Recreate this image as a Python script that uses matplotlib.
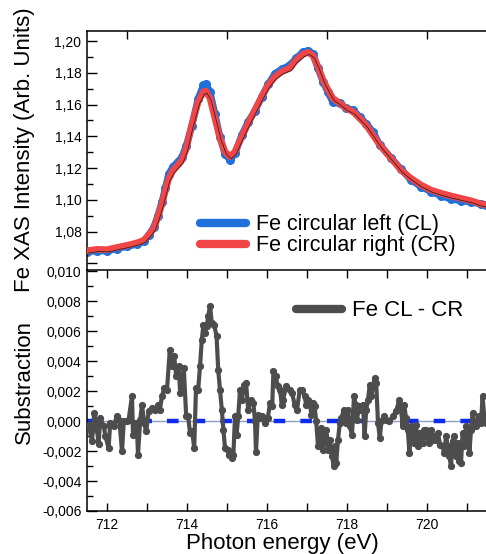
import matplotlib
matplotlib.use("Agg")
import matplotlib.pyplot as plt
from matplotlib.ticker import FixedLocator, MultipleLocator, FuncFormatter
from matplotlib.lines import Line2D
import matplotlib.transforms as mtransforms

plt.rcParams['font.family'] = ['Liberation Sans', 'DejaVu Sans']

# ---------------- data ----------------
top_e = [711.50, 711.75, 712.00, 712.25, 712.50, 712.75, 712.92, 713.04, 713.17, 713.27,
         713.375, 713.46, 713.54, 713.65, 713.77, 713.875, 713.98, 714.12, 714.28, 714.41,
         714.47, 714.575, 714.70, 714.825, 714.95, 715.075, 715.20, 715.37, 715.53, 715.70,
         715.87, 716.03, 716.20, 716.37, 716.57, 716.73, 716.90, 717.025, 717.15, 717.275,
         717.40, 717.525, 717.65, 717.82, 717.98, 718.15, 718.32, 718.48, 718.65, 718.82,
         719.10, 719.35, 719.60, 719.85, 720.10, 720.35, 720.60, 720.85, 721.10, 721.35, 721.475]
cr = [1.0680, 1.0689, 1.0687, 1.0701, 1.0714, 1.0730, 1.0746, 1.0779, 1.0821, 1.0890,
      1.0975, 1.1058, 1.1132, 1.1185, 1.1218, 1.1250, 1.1320, 1.1471, 1.1618, 1.1681,
      1.1685, 1.1639, 1.1513, 1.1388, 1.1303, 1.1272, 1.1303, 1.1398, 1.1482, 1.1566,
      1.1650, 1.1723, 1.1775, 1.1807, 1.1828, 1.1880, 1.1916, 1.1929, 1.1908, 1.1838,
      1.1755, 1.1692, 1.1639, 1.1608, 1.1576, 1.1555, 1.1513, 1.1471, 1.1408, 1.1346,
      1.1262, 1.1188, 1.1136, 1.1094, 1.1062, 1.1042, 1.1025, 1.1010, 1.0995, 1.0974, 1.0968]
cl = [1.0672, 1.0681, 1.0678, 1.0694, 1.0707, 1.0722, 1.0740, 1.0779, 1.0828, 1.0900,
      1.0988, 1.1075, 1.1160, 1.1210, 1.1238, 1.1270, 1.1340, 1.1466, 1.1638, 1.1721,
      1.1730, 1.1679, 1.1538, 1.1396, 1.1288, 1.1252, 1.1293, 1.1408, 1.1492, 1.1561,
      1.1650, 1.1728, 1.1795, 1.1822, 1.1848, 1.1890, 1.1931, 1.1939, 1.1918, 1.1828,
      1.1745, 1.1677, 1.1614, 1.1608, 1.1576, 1.1565, 1.1521, 1.1479, 1.1428, 1.1346,
      1.1265, 1.1193, 1.1126, 1.1084, 1.1052, 1.1027, 1.1005, 1.0995, 1.0987, 1.0974, 1.0968]

sub_e = [711.54, 711.625, 711.68, 711.75, 711.79, 711.83, 711.92, 711.96, 712.04, 712.08,
         712.17, 712.25, 712.31, 712.375, 712.42, 712.50, 712.54, 712.625, 712.65, 712.71,
         712.75, 712.775, 712.83, 712.875, 712.93, 712.98, 713.04, 713.125, 713.21, 713.27,
         713.32, 713.375, 713.43, 713.50, 713.57, 713.625, 713.68, 713.73, 713.79, 713.83,
         713.92, 713.98, 714.03, 714.075, 714.13, 714.18, 714.225, 714.28, 714.325, 714.37,
         714.41, 714.45, 714.49, 714.53, 714.575, 714.62, 714.68, 714.74, 714.78, 714.825,
         714.87, 714.91, 714.95, 715.02, 715.06, 715.12, 715.16, 715.20, 715.24, 715.28,
         715.325, 715.37, 715.43, 715.475, 715.53, 715.59, 715.66, 715.70, 715.725, 715.77,
         715.825, 715.88, 715.95, 716.02, 716.075, 716.13, 716.16, 716.22, 716.27, 716.325,
         716.37, 716.40, 716.48, 716.57, 716.63, 716.69, 716.75, 716.82, 716.88, 716.94,
         716.98, 717.025, 717.07, 717.11, 717.15, 717.19, 717.23, 717.275, 717.32, 717.36,
         717.40, 717.44, 717.48, 717.525, 717.57, 717.625, 717.67, 717.71, 717.73, 717.775,
         717.82, 717.86, 717.92, 717.97, 718.025, 718.07, 718.125, 718.175, 718.22, 718.25,
         718.30, 718.36, 718.40, 718.44, 718.48, 718.525, 718.57, 718.61, 718.65, 718.69,
         718.73, 718.775, 718.82, 718.86, 718.92, 718.975, 719.06, 719.14, 719.225, 719.31,
         719.35, 719.39, 719.43, 719.475, 719.52, 719.56, 719.60, 719.64, 719.68, 719.725,
         719.77, 719.81, 719.85, 719.89, 719.93, 719.975, 720.02, 720.06, 720.10, 720.14,
         720.18, 720.225, 720.27, 720.33, 720.39, 720.43, 720.475, 720.52, 720.56, 720.60,
         720.64, 720.68, 720.725, 720.77, 720.81, 720.85, 720.89, 720.93, 720.975, 721.02,
         721.06, 721.10, 721.14, 721.18, 721.225, 721.27, 721.31, 721.35, 721.39, 721.43, 721.475]
sub_v = [-0.00024, -0.00135, 0.00054, -0.00057, -0.00150, 0.00021, -0.00035, -0.00101, -0.00179, -0.00012,
         -0.00035, 0.00032, 0.00010, -0.00202, -0.00001, -0.00001, 0.00010, 0.00166, -0.00090, -0.00012,
         -0.00057, -0.00224, 0.00010, 0.00110, -0.00012, -0.00068, 0.00065, 0.00088, 0.00077, 0.00110,
         0.00077, 0.00166, 0.00221, 0.00210, 0.00477, 0.00366, 0.00433, 0.00299, 0.00366, 0.00188,
         0.00355, 0.00032, 0.00032, -0.00079, -0.00068, -0.00179, 0.00221, 0.00210, 0.00366, 0.00544,
         0.00644, 0.00589, 0.00633, 0.00700, 0.00771, 0.00655, 0.00644, 0.00566, 0.00344, 0.00210,
         0.00077, -0.00057, -0.00179, -0.00190, -0.00224, -0.00246, -0.00224, 0.00032, -0.00090, 0.00032,
         0.00210, 0.00143, 0.00244, 0.00255, 0.00077, 0.00143, 0.00121, -0.00001, -0.00208, 0.00043,
         0.00021, 0.00032, -0.00012, 0.00021, 0.00121, 0.00099, 0.00333, 0.00299, 0.00232, 0.00210,
         0.00110, 0.00143, 0.00232, 0.00210, 0.00188, 0.00110, 0.00077, 0.00210, 0.00210, 0.00166,
         0.00110, 0.00143, 0.00121, 0.00043, 0.00121, 0.00099, -0.00001, -0.00168, -0.00101, -0.00046,
         -0.00190, -0.00101, -0.00057, -0.00190, -0.00124, -0.00235, -0.00302, -0.00168, -0.00280, -0.00124,
         -0.00012, 0.00021, 0.00077, -0.00012, 0.00077, -0.00035, -0.00090, 0.00166, 0.00110, 0.00010,
         0.00099, 0.00077, 0.00110, -0.00101, 0.00077, 0.00143, 0.00244, 0.00166, 0.00232, 0.00288,
         0.00255, -0.00012, -0.00113, -0.00001, 0.00032, 0.00010, -0.00001, 0.00032, 0.00065, 0.00143,
         0.00088, -0.00035, 0.00110, 0.00021, -0.00057, -0.00213, -0.00035, -0.00101, -0.00146, -0.00024,
         -0.00168, -0.00079, -0.00101, -0.00146, -0.00057, -0.00057, -0.00113, -0.00146, -0.00057, -0.00124,
         -0.00101, -0.00124, -0.00079, -0.00157, -0.00168, -0.00213, -0.00101, -0.00168, -0.00235, -0.00302,
         -0.00135, -0.00101, -0.00235, -0.00146, -0.00268, -0.00280, -0.00079, -0.00168, -0.00035, -0.00057,
         -0.00213, -0.00057, 0.00054, -0.00001, -0.00035, 0.00010, 0.00032, -0.00012, 0.00166, 0.00032, -0.00012]

zero_e = [711.5, 721.525]
zero_v = [0.0, 0.0]

xlim = (711.5, 721.525)

# ---------------- figure ----------------
fig = plt.figure(figsize=(4.86, 5.54), dpi=100)
L, W = 87 / 486, 401 / 486
ax1 = fig.add_axes([L, 1 - 270 / 554, W, 239 / 554])
ax2 = fig.add_axes([L, 1 - 511 / 554, W, 241 / 554])

blue = '#2070dc'
red = '#f24545'
gray = '#4d4d4d'

# top panel
ax1.plot(top_e, cl, color=blue, lw=5.0, marker='o', ms=5.5, solid_joinstyle='round',
         solid_capstyle='round', zorder=2)
ax1.plot(top_e, cr, color=red, lw=4.8, solid_joinstyle='round', solid_capstyle='round', zorder=3)
off = mtransforms.offset_copy(ax1.transData, fig=fig, x=1.3, y=-2.2, units='dots')
ax1.plot(top_e, cr, color='#222222', lw=0.55, transform=off, zorder=4)

ax1.set_xlim(*xlim)
ax1.set_ylim(1.0559, 1.2063)
ax1.yaxis.set_major_locator(FixedLocator([1.06, 1.08, 1.10, 1.12, 1.14, 1.16, 1.18, 1.20]))
ax1.yaxis.set_minor_locator(MultipleLocator(0.01))
ax1.yaxis.set_major_formatter(FuncFormatter(
    lambda v, p: '' if v < 1.07 else f"{v:.2f}".replace('.', ',')))
ax1.xaxis.set_ticks_position('top')
ax1.xaxis.set_major_locator(FixedLocator([712.5, 715, 717.5, 720]))
ax1.tick_params(axis='x', which='both', top=True, bottom=False, labeltop=False,
                labelbottom=False, direction='in', length=6, width=1)
ax1.tick_params(axis='y', which='major', direction='in', length=7, width=1,
                labelsize=10, pad=4, right=False)
ax1.tick_params(axis='y', which='minor', direction='in', length=4, width=1, right=False)
ax1.spines['bottom'].set_visible(False)

h1 = [Line2D([], [], color=blue, lw=6, solid_capstyle='round'),
      Line2D([], [], color=red, lw=6, solid_capstyle='round')]
ax1.legend(h1, ['Fe circular left (CL)', 'Fe circular right (CR)'], loc='center left',
           bbox_to_anchor=(0.282, 0.146), frameon=False, fontsize=15.5, handlelength=2.14,
           handletextpad=0.45, labelspacing=0.0, borderpad=0, borderaxespad=0)

# bottom panel
ax2.plot(zero_e, zero_v, color='#8a9cc0', lw=1.0, zorder=1)
ax2.plot(zero_e, zero_v, color='#0b2cf0', lw=3.2, dashes=(2.6, 3.4), dash_capstyle='butt', zorder=2)
ax2.plot(sub_e, sub_v, color=gray, lw=3.0, marker='o', ms=4.2, solid_joinstyle='round', zorder=3)

ax2.set_xlim(*xlim)
ax2.set_ylim(-0.006, 0.0101)
ax2.xaxis.set_major_locator(FixedLocator(list(range(712, 722))))
ax2.xaxis.set_major_formatter(FuncFormatter(lambda v, p: f"{int(round(v))}" if int(round(v)) % 2 == 0 else ''))
ax2.yaxis.set_major_locator(MultipleLocator(0.002))
ax2.yaxis.set_minor_locator(MultipleLocator(0.001))
ax2.yaxis.set_major_formatter(FuncFormatter(
    lambda v, p: '0,000' if abs(v) < 1e-9 else f"{v:.3f}".replace('.', ',')))
ax2.tick_params(axis='x', which='both', top=True, bottom=True, direction='in',
                length=6, width=1, labelsize=10, pad=5)
ax2.tick_params(axis='y', which='major', direction='in', length=7, width=1,
                labelsize=10, pad=4, right=False)
ax2.tick_params(axis='y', which='minor', direction='in', length=4, width=1, right=False)

h2 = [Line2D([], [], color=gray, lw=6, solid_capstyle='round')]
ax2.legend(h2, ['Fe CL - CR'], loc='center left', bbox_to_anchor=(0.521, 0.830),
           frameon=False, fontsize=16, handlelength=2.07, handletextpad=0.45,
           borderpad=0, borderaxespad=0)

for ax in (ax1, ax2):
    for s in ax.spines.values():
        s.set_linewidth(1.1)

fig.text(25 / 486, 1 - 150 / 554, 'Fe XAS Intensity (Arb. Units)', rotation=90,
         ha='center', va='center', fontsize=16)
fig.text(24 / 486, 1 - 382 / 554, 'Substraction', rotation=90,
         ha='center', va='center', fontsize=16)
fig.text(282 / 486, 1 - 549 / 554, 'Photon energy (eV)', ha='center', va='baseline', fontsize=16)

fig.savefig('out.png', dpi=100)
